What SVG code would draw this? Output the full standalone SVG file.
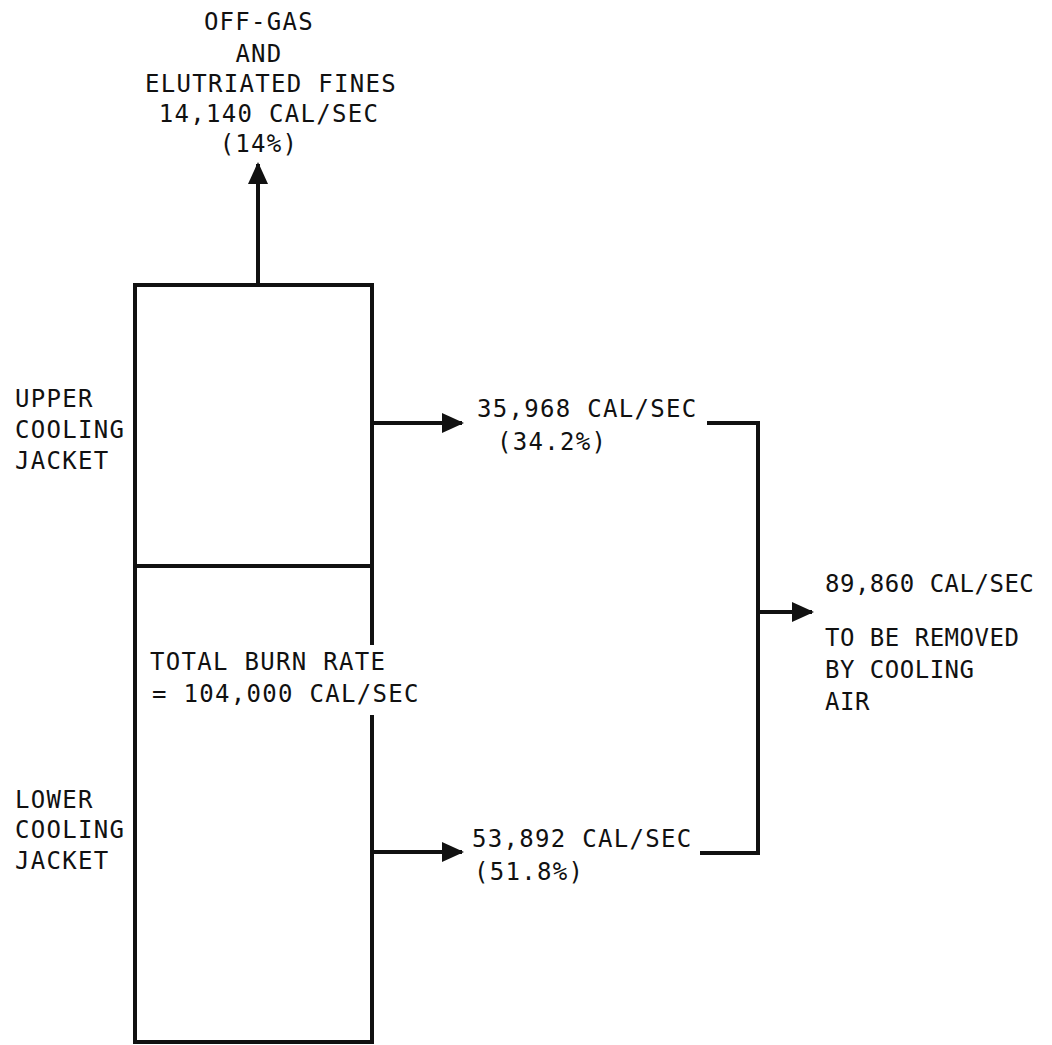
<svg xmlns="http://www.w3.org/2000/svg" width="1052" height="1045" viewBox="0 0 1052 1045">
<style>
text{font-family:"DejaVu Sans Mono","Liberation Mono",monospace;font-size:24px;fill:#111;letter-spacing:1.3px}
.n{letter-spacing:0.5px}
.b{stroke:#111;stroke-width:4;fill:none;stroke-linecap:square}
.c{stroke:#111;stroke-width:4;fill:none}
</style>
<defs>
<marker id="ah" markerWidth="22" markerHeight="20" refX="20" refY="10" orient="auto" markerUnits="userSpaceOnUse">
<path d="M0,0 L22,10 L0,20 Z" fill="#111"/>
</marker>
</defs>
<rect width="1052" height="1045" fill="#fff"/>
<g id="upper-jacket">
<path class="b" d="M372,566 L372,285 L135,285 L135,566 Z"/>
<text x="15" y="407">UPPER</text>
<text x="15" y="438">COOLING</text>
<text x="15" y="469">JACKET</text>
</g>
<g id="lower-jacket">
<path class="b" d="M372,643 L372,566 L135,566 L135,1042 L372,1042 L372,717"/>
<text x="15" y="808">LOWER</text>
<text x="15" y="838">COOLING</text>
<text x="15" y="869">JACKET</text>
<text x="150" y="670">TOTAL BURN RATE</text>
<text x="152" y="702">= 104,000 CAL/SEC</text>
</g>
<g id="off-gas">
<text x="259" y="30" text-anchor="middle">OFF-GAS</text>
<text x="259" y="62" text-anchor="middle">AND</text>
<text x="271" y="92" text-anchor="middle">ELUTRIATED FINES</text>
<text x="269" y="122" text-anchor="middle">14,140 CAL/SEC</text>
<text x="259" y="152" text-anchor="middle">(14%)</text>
</g>
<g id="upper-flow">
<text x="477" y="417">35,968 CAL/SEC</text>
<text x="497" y="450">(34.2%)</text>
</g>
<g id="lower-flow">
<text x="472" y="847">53,892 CAL/SEC</text>
<text x="474" y="880">(51.8%)</text>
</g>
<g id="total-removed">
<text x="825" y="592" class="n">89,860 CAL/SEC</text>
<text x="825" y="646" class="n">TO BE REMOVED</text>
<text x="825" y="678" class="n">BY COOLING</text>
<text x="825" y="710" class="n">AIR</text>
</g>
<g id="connectors">
<line class="c" x1="258" y1="285" x2="258" y2="164" marker-end="url(#ah)"/>
<line class="c" x1="372" y1="423" x2="462" y2="423" marker-end="url(#ah)"/>
<line class="c" x1="372" y1="852" x2="462" y2="852" marker-end="url(#ah)"/>
<path class="c" d="M707,423 L758,423 L758,853 L700,853"/>
<line class="c" x1="758" y1="612" x2="812" y2="612" marker-end="url(#ah)"/>
</g>
</svg>
